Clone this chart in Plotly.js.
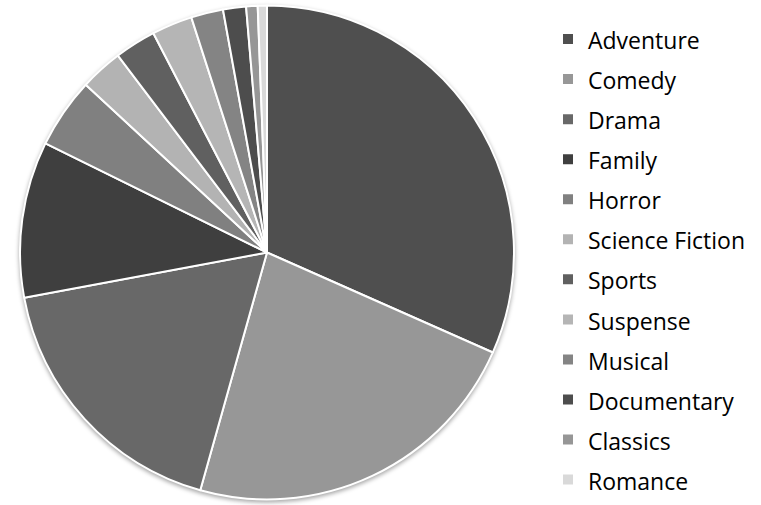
<!DOCTYPE html>
<html>
<head>
<meta charset="utf-8">
<script src="https://cdn.plot.ly/plotly-3.0.1.min.js"></script>
<style>
  html, body { margin: 0; padding: 0; background: #fff; }
  #chart { width: 761px; height: 505px; }
  .pielayer .trace { filter: drop-shadow(0px 2px 2px rgba(0,0,0,0.35)); }
</style>
</head>
<body>
<div id="chart"></div>
<script>
// Genres (legend order = slice order, clockwise from 12 o'clock)
const genres = ["Adventure", "Comedy", "Drama", "Family", "Horror", "Science Fiction",
                "Sports", "Suspense", "Musical", "Documentary", "Classics", "Romance"];
// Share of each genre (percent)
const shares = [31.6, 22.7, 17.7, 10.2, 4.6, 2.8, 2.7, 2.65, 2.1, 1.5, 0.75, 0.6];
// Slice colours (grayscale)
const sliceColors = ["#4f4f4f", "#979797", "#686868", "#3f3f3f", "#808080", "#b3b3b3",
                     "#606060", "#b5b5b5", "#848484", "#4d4d4d", "#969696", "#d9d9d9"];

const legendLabels = genres.map(g => '<span style="font-size:23px;baseline-shift:1.5px">' + g + '</span>');

const trace = {
  type: "pie",
  labels: legendLabels,
  values: shares,
  sort: false,
  direction: "clockwise",
  rotation: 0,
  textinfo: "none",
  hoverinfo: "label+percent",
  marker: { colors: sliceColors, line: { color: "#ffffff", width: 2 } },
  domain: { x: [20 / 761, 514 / 761], y: [5.5 / 505, 499.5 / 505] }
};

const layout = {
  width: 761,
  height: 505,
  margin: { l: 0, r: 0, t: 0, b: 0 },
  paper_bgcolor: "#ffffff",
  plot_bgcolor: "#ffffff",
  showlegend: true,
  legend: {
    x: 548 / 761,
    xanchor: "left",
    y: 1 - 20 / 505,
    yanchor: "top",
    font: { family: "Open Sans, sans-serif", size: 28.5, color: "#000000" },
    bgcolor: "rgba(0,0,0,0)",
    borderwidth: 0,
    traceorder: "normal"
  }
};

Plotly.newPlot("chart", [trace], layout, { displayModeBar: false, staticPlot: true });
</script>
</body>
</html>
